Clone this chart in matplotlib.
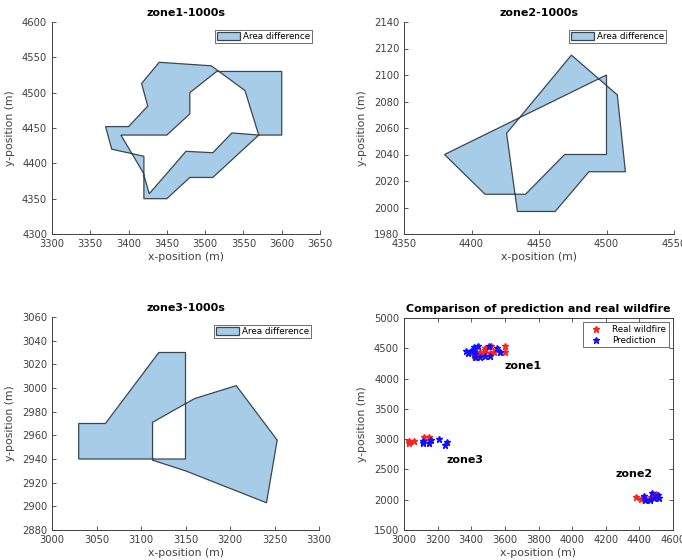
import matplotlib
matplotlib.use("Agg")
import matplotlib.pyplot as plt
import numpy as np
from matplotlib.path import Path
from matplotlib.patches import PathPatch, Patch

# Fire front polygons (x, y) in metres at t = 1000 s
zone1_real_x = [3515, 3600, 3600, 3570, 3535, 3510, 3475, 3427, 3419, 3390, 3450, 3480, 3480]
zone1_real_y = [4530, 4530, 4440, 4440, 4443, 4415, 4417, 4357, 4387, 4440, 4440, 4470, 4500]
zone1_pred_x = [3440, 3508, 3552, 3570, 3510, 3480, 3450, 3420, 3420, 3378, 3370, 3400, 3425, 3417]
zone1_pred_y = [4543, 4538, 4503, 4440, 4380, 4380, 4350, 4350, 4410, 4420, 4452, 4452, 4481, 4513]

zone2_real_x = [4380, 4500, 4500, 4469, 4440, 4410]
zone2_real_y = [2040, 2100, 2040, 2040, 2010, 2010]
zone2_pred_x = [4474, 4508, 4514, 4487, 4462, 4434, 4426]
zone2_pred_y = [2115, 2085, 2027, 2027, 1997, 1997, 2056]

zone3_real_x = [3030, 3060, 3120, 3150, 3150, 3030]
zone3_real_y = [2970, 2970, 3030, 3030, 2940, 2940]
zone3_pred_x = [3113, 3160, 3207, 3253, 3241, 3150, 3113]
zone3_pred_y = [2971, 2991, 3002, 2956, 2903, 2930, 2939]

zone_titles = ["zone1-1000s", "zone2-1000s", "zone3-1000s"]
zone_xlim = [(3300, 3650), (4350, 4550), (3000, 3300)]
zone_ylim = [(4300, 4600), (1980, 2140), (2880, 3060)]
zone_xticks = [np.arange(3300, 3651, 50), np.arange(4350, 4551, 50), np.arange(3000, 3301, 50)]
zone_yticks = [np.arange(4300, 4601, 50), np.arange(1980, 2141, 20), np.arange(2880, 3061, 20)]

label_names = ["zone1", "zone2", "zone3"]
label_x = [3600, 4260, 3250]
label_y = [4200, 2430, 2650]

FILL = (166 / 255, 204 / 255, 232 / 255)
EDGE = "#3c4650"
TICKC = "#404040"

plt.rcParams["font.family"] = "DejaVu Sans"
fig = plt.figure(figsize=(6.82, 5.60), dpi=100)
W, H = 682, 560


def add_axes_px(l, t, r, b):
    return fig.add_axes([l / W, 1 - b / H, (r - l) / W, (b - t) / H])


def style(ax, box):
    ax.tick_params(direction="in", length=3, width=0.6, colors=TICKC,
                   labelsize=7.2, labelcolor=TICKC, top=box, right=box)
    for s in ["left", "bottom", "top", "right"]:
        ax.spines[s].set_color(TICKC)
        ax.spines[s].set_linewidth(0.7)
    if not box:
        ax.spines["top"].set_visible(False)
        ax.spines["right"].set_visible(False)
    ax.set_xlabel("x-position (m)", fontsize=7.8, color=TICKC, labelpad=2)
    ax.set_ylabel("y-position (m)", fontsize=7.8, color=TICKC, labelpad=5)


def diff_patch(ax, ax_pts, bx_pts):
    a = list(zip(*ax_pts))
    b = list(zip(*bx_pts))[::-1]   # opposite winding so the overlap stays empty
    verts = a + [a[0]] + b + [b[0]]
    codes = ([Path.MOVETO] + [Path.LINETO] * (len(a) - 1) + [Path.CLOSEPOLY] +
             [Path.MOVETO] + [Path.LINETO] * (len(b) - 1) + [Path.CLOSEPOLY])
    ax.add_patch(PathPatch(Path(verts, codes), facecolor=FILL, edgecolor=EDGE, lw=0.9))


zones = [
    ((zone1_real_x, zone1_real_y), (zone1_pred_x, zone1_pred_y)),
    ((zone2_real_x, zone2_real_y), (zone2_pred_x, zone2_pred_y)),
    ((zone3_real_x, zone3_real_y), (zone3_pred_x, zone3_pred_y)),
]
boxes = [(52, 22, 320, 234), (404, 22, 674, 234), (52, 317, 319, 530)]

for i, ((real, pred), bx) in enumerate(zip(zones, boxes)):
    ax = add_axes_px(*bx)
    diff_patch(ax, real, pred)
    ax.set_xlim(*zone_xlim[i])
    ax.set_ylim(*zone_ylim[i])
    ax.set_xticks(zone_xticks[i])
    ax.set_yticks(zone_yticks[i])
    style(ax, box=False)
    ax.set_title(zone_titles[i], fontsize=8, fontweight="bold", pad=4)
    leg = ax.legend(handles=[Patch(facecolor=FILL, edgecolor=EDGE, lw=0.9)],
                    labels=["Area difference"], loc="upper right", fontsize=6.3,
                    fancybox=False, framealpha=1, edgecolor="#555555",
                    handlelength=2.6, handleheight=0.9, borderpad=0.25,
                    handletextpad=0.3, borderaxespad=0.9)
    leg.get_frame().set_linewidth(0.6)

# Comparison of all zones
ax = add_axes_px(404, 318, 673, 530)
real_x = zone1_real_x + zone2_real_x + zone3_real_x
real_y = zone1_real_y + zone2_real_y + zone3_real_y
pred_x = zone1_pred_x + zone2_pred_x + zone3_pred_x
pred_y = zone1_pred_y + zone2_pred_y + zone3_pred_y
ax.plot(real_x, real_y, ls="none", marker="*", ms=5, color="#ff2020", label="Real wildfire")
ax.plot(pred_x, pred_y, ls="none", marker="*", ms=5, color="#1010ff", label="Prediction")
for name, tx, ty in zip(label_names, label_x, label_y):
    ax.text(tx, ty, name, fontsize=8, fontweight="bold", va="center", ha="left")
ax.set_xlim(3000, 4600)
ax.set_ylim(1500, 5000)
ax.set_xticks(np.arange(3000, 4601, 200))
ax.set_yticks(np.arange(1500, 5001, 500))
style(ax, box=True)
ax.set_title("Comparison of prediction and real wildfire", fontsize=8, fontweight="bold", pad=4)
leg = ax.legend(loc="upper right", fontsize=6.3, fancybox=False, framealpha=1,
                edgecolor="#555555", handlelength=2.2, borderpad=0.3,
                handletextpad=0.8, borderaxespad=0.5, labelspacing=0.2)
leg.get_frame().set_linewidth(0.6)

fig.savefig("out.png", dpi=100)
